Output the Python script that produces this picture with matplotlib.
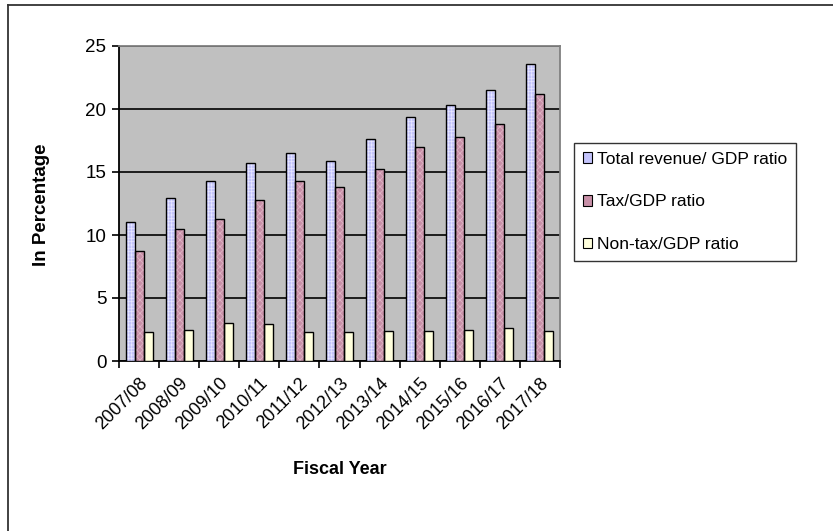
"""
Revenue, tax and non-tax ratios to GDP by fiscal year, grouped bar chart.
"""

import numpy as np
import matplotlib.pyplot as plt
from matplotlib.lines import Line2D
from matplotlib.patches import Patch

years = ["2007/08", "2008/09", "2009/10", "2010/11", "2011/12", "2012/13",
         "2013/14", "2014/15", "2015/16", "2016/17", "2017/18"]
total_revenue = [11.0, 12.9, 14.3, 15.7, 16.5, 15.9, 17.6, 19.4, 20.3, 21.5, 23.6]
tax = [8.7, 10.5, 11.3, 12.8, 14.3, 13.8, 15.2, 17.0, 17.8, 18.8, 21.2]
non_tax = [2.3, 2.5, 3.0, 2.9, 2.3, 2.3, 2.4, 2.4, 2.5, 2.6, 2.4]
labels = ["Total revenue/ GDP ratio", "Tax/GDP ratio", "Non-tax/GDP ratio"]

W, H = 833, 531
plt.rcParams['font.family'] = ['Liberation Sans', 'DejaVu Sans']
plt.rcParams['hatch.linewidth'] = 0.5

fig = plt.figure(figsize=(W / 100, H / 100), dpi=100)
ax = fig.add_axes([119 / W, (H - 361) / H, 441 / W, 315 / H])
ax.set_facecolor('#C0C0C0')

x = np.arange(len(years))
bw = 0.225

# bar fills with a fine light pattern, then a black outline on top
styles = [('#C4C4FC', '#E8E8FF', '+++++'),
          ('#C890A8', '#E0B8C8', 'xxxxx'),
          ('#FFFFDD', '#FFFFDD', None)]
for k, (vals, (col, hcol, hatch)) in enumerate(zip([total_revenue, tax, non_tax], styles)):
    pos = x + (k - 1) * bw
    ax.bar(pos, vals, bw, color=col, edgecolor=hcol,
           hatch=hatch, linewidth=0, zorder=3)
    ax.bar(pos, vals, bw, fill=False, edgecolor='black', linewidth=1.0, zorder=4)

ax.set_xlim(-0.5, len(years) - 0.5)
ax.set_ylim(0, 25)
ax.set_yticks([0, 5, 10, 15, 20, 25])
ax.yaxis.grid(True, color='black', linewidth=1.2)
ax.set_axisbelow(True)

ax.set_xticks(x)
ax.set_xticklabels(years, rotation=45, ha='right', rotation_mode='anchor',
                   fontsize=13)
ax.set_xticks(np.arange(-0.5, len(years)), minor=True)
ax.tick_params(axis='x', which='major', length=0, pad=10)
ax.tick_params(axis='x', which='minor', length=5, width=1.2, direction='out')
ax.tick_params(axis='y', length=5, width=1.2, direction='out', labelsize=13.5, pad=4)

for side in ('left', 'bottom'):
    ax.spines[side].set_color('black')
    ax.spines[side].set_linewidth(1.3)
for side in ('top', 'right'):
    ax.spines[side].set_color('#808080')
    ax.spines[side].set_linewidth(1.3)

fig.text(42 / W, 1 - 205 / H, "In Percentage", rotation=90, fontsize=13.5,
         fontweight='bold', ha='center', va='center')
fig.text(340 / W, 1 - 470 / H, "Fiscal Year", fontsize=13,
         fontweight='bold', ha='center', va='center')

handles = [Patch(facecolor='#C4C4FC', edgecolor='black', linewidth=0.8),
           Patch(facecolor='#C890A8', edgecolor='black', linewidth=0.8),
           Patch(facecolor='#FFFFDD', edgecolor='black', linewidth=0.8)]
leg = fig.legend(handles, labels, loc='upper left',
                 bbox_to_anchor=(574 / W, 1 - 143 / H), fontsize=12.5,
                 frameon=True, fancybox=False, edgecolor='black',
                 handlelength=0.55, handleheight=0.55, handletextpad=0.3,
                 labelspacing=1.6, borderpad=0.5, borderaxespad=0)
leg.get_frame().set_linewidth(1.0)

# chart area border along the top and left edges
fig.add_artist(Line2D([8 / W, 1], [1 - 5 / H, 1 - 5 / H], color='#333333', lw=1.3))
fig.add_artist(Line2D([8 / W, 8 / W], [0, 1 - 5 / H], color='#333333', lw=1.3))

fig.savefig("out.png", dpi=100)
